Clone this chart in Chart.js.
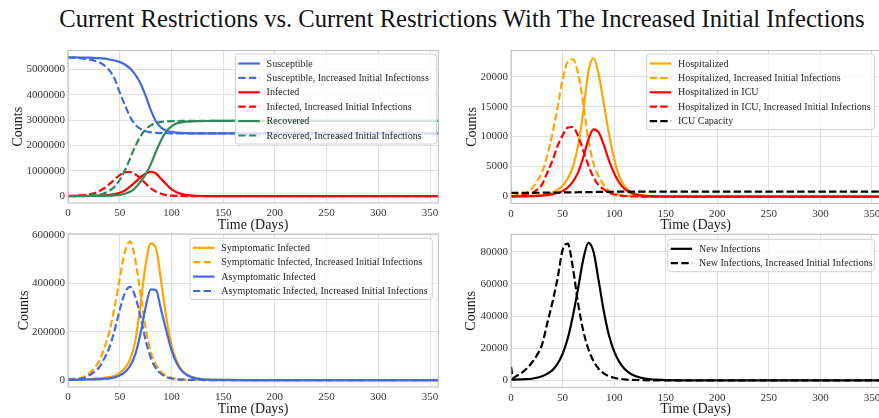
<!DOCTYPE html>
<html>
<head>
<meta charset="utf-8">
<script src="https://cdn.jsdelivr.net/npm/chart.js@4"></script>
<style>
html, body { margin: 0; padding: 0; overflow: hidden; background: #fff; width: 879px; height: 418px; }
#title { position: absolute; left: 0; top: 4px; width: 924px; text-align: center; white-space: nowrap;
         font-family: 'Liberation Serif', serif; font-size: 24.6px; line-height: 30px; color: #111; }
canvas { position: absolute; left: 0; top: 0; }
</style>
</head>
<body>
<div id="title">Current Restrictions vs. Current Restrictions With The Increased Initial Infections</div>
<canvas id="c1" width="900" height="418"></canvas>
<canvas id="c2" width="900" height="418"></canvas>
<canvas id="c3" width="900" height="418"></canvas>
<canvas id="c4" width="900" height="418"></canvas>
<script>
// days
const days = [0, 2, 5, 10, 15, 20, 25, 30, 35, 40, 45, 50, 55, 60, 65, 70, 75, 80, 85, 90, 95, 100,
  105, 110, 115, 120, 125, 130, 135, 140, 145, 150, 175, 200, 250, 300, 358];
const xTicks = [0, 50, 100, 150, 200, 250, 300, 350];

// top left: S / I / R
const susceptible = [5470000, 5470000, 5470000, 5468000, 5465000, 5460000, 5452000, 5440000, 5420000, 5390000,
  5350000, 5290000, 5190000, 5030000, 4790000, 4450000, 3960000, 3400000, 2950000, 2700000, 2580000, 2530000,
  2500000, 2490000, 2480000, 2475000, 2472000, 2471000, 2470000, 2470000, 2470000, 2470000, 2470000, 2470000,
  2470000, 2470000, 2470000];
const susceptibleInc = [5460000, 5458000, 5455000, 5445000, 5425000, 5395000, 5350000, 5280000, 5160000, 4960000,
  4640000, 4090000, 3600000, 3130000, 2820000, 2650000, 2560000, 2515000, 2495000, 2485000, 2478000, 2474000,
  2472000, 2471000, 2470000, 2470000, 2470000, 2470000, 2470000, 2470000, 2470000, 2470000, 2470000, 2470000,
  2470000, 2470000, 2470000];
const infected = [2000, 2000, 3000, 4000, 6000, 9000, 13000, 20000, 30000, 45000, 80000, 130000, 220000, 370000,
  550000, 740000, 880000, 960000, 890000, 680000, 470000, 270000, 150000, 75000, 35000, 15000, 7000, 3000, 1500,
  700, 300, 100, 0, 0, 0, 0, 0];
const infectedInc = [5000, 7000, 12000, 25000, 40000, 62000, 110000, 190000, 310000, 470000, 650000, 830000, 940000,
  950000, 860000, 700000, 500000, 300000, 180000, 90000, 40000, 15000, 6000, 2000, 700, 200, 0, 0, 0, 0, 0, 0, 0,
  0, 0, 0, 0];
const recovered = [0, 0, 0, 500, 1000, 2000, 3000, 5000, 10000, 18000, 30000, 50000, 90000, 170000, 320000, 560000,
  850000, 1250000, 1750000, 2200000, 2550000, 2750000, 2860000, 2910000, 2935000, 2948000, 2955000, 2960000,
  2962000, 2963000, 2964000, 2965000, 2965000, 2965000, 2965000, 2965000, 2965000];
const recoveredInc = [0, 0, 1000, 3000, 8000, 15000, 30000, 55000, 110000, 210000, 370000, 640000, 1010000, 1480000,
  1960000, 2350000, 2630000, 2790000, 2880000, 2925000, 2945000, 2955000, 2960000, 2963000, 2965000, 2965000,
  2965000, 2965000, 2965000, 2965000, 2965000, 2965000, 2965000, 2965000, 2965000, 2965000, 2965000];
const yTicks1 = [0, 1000000, 2000000, 3000000, 4000000, 5000000];

// top right: hospital
const hosp = [0, 0, 10, 30, 60, 100, 170, 270, 420, 650, 1100, 1800, 3000, 4900, 8500, 14000, 20800, 23100, 20400,
  15500, 10500, 6300, 3400, 1700, 900, 500, 280, 150, 80, 40, 20, 10, 0, 0, 0, 0, 0];
const hospInc = [100, 130, 200, 350, 700, 1300, 2500, 4000, 6800, 10400, 14700, 19500, 22500, 22900, 20600, 15600,
  9500, 5500, 3400, 1900, 1000, 580, 320, 180, 100, 50, 25, 10, 0, 0, 0, 0, 0, 0, 0, 0, 0];
const icu = [0, 0, 10, 20, 40, 60, 100, 150, 230, 350, 580, 900, 1500, 2500, 4000, 6500, 9500, 11200, 10700, 8600,
  6000, 3900, 2300, 1300, 700, 380, 200, 110, 60, 30, 15, 8, 0, 0, 0, 0, 0];
const icuInc = [50, 70, 100, 200, 380, 550, 1100, 2000, 3900, 5900, 8400, 10200, 11500, 11600, 10100, 7700, 5200,
  3200, 1900, 1200, 650, 350, 180, 90, 45, 20, 0, 0, 0, 0, 0, 0, 0, 0, 0, 0, 0];
const icuCap = [600, 602, 606, 612, 618, 625, 632, 640, 650, 660, 670, 682, 694, 706, 718, 730, 742, 755, 768, 780,
  792, 804, 815, 824, 830, 830, 830, 830, 830, 830, 830, 830, 830, 830, 830, 830, 830];
const yTicks2 = [0, 5000, 10000, 15000, 20000];

// bottom left: symptomatic / asymptomatic
const symp = [1000, 1000, 1500, 2000, 3000, 4000, 5500, 7000, 9000, 12000, 18000, 30000, 50000, 85000, 160000,
  310000, 475000, 565000, 545000, 410000, 260000, 145000, 80000, 42000, 22000, 12000, 6500, 3500, 2000, 1000, 500,
  300, 50, 0, 0, 0, 0];
const sympInc = [3000, 4000, 5000, 7000, 13000, 26000, 48000, 78000, 130000, 200000, 300000, 420000, 530000, 573000,
  497000, 360000, 215000, 118000, 64000, 34000, 18000, 9500, 5000, 2500, 1300, 700, 350, 180, 90, 40, 20, 10, 0, 0,
  0, 0, 0];
const asymp = [500, 600, 800, 1200, 1600, 2200, 3000, 4000, 5500, 7000, 11000, 19000, 33000, 58000, 105000, 190000,
  300000, 375000, 372000, 290000, 205000, 125000, 70000, 38000, 21000, 11000, 6000, 3200, 1800, 1000, 500, 300, 30,
  0, 0, 0, 0];
const asympInc = [2000, 2500, 3000, 4000, 8000, 18000, 33000, 52000, 88000, 135000, 205000, 290000, 360000, 385000,
  346000, 264000, 165000, 92000, 48000, 25000, 13000, 6500, 3300, 1700, 850, 400, 200, 100, 50, 25, 10, 5, 0, 0, 0,
  0, 0];
const yTicks3 = [0, 200000, 400000, 600000];

// bottom right: new infections
const newInf = [500, 400, 500, 600, 800, 1000, 1600, 2500, 4000, 6200, 10200, 16500, 26000, 40000, 57000, 75000,
  85500, 80000, 62000, 43000, 28000, 18000, 11500, 7200, 4500, 2800, 1800, 1100, 700, 400, 250, 150, 20, 0, 0, 0, 0];
const newInfInc = [8500, 1500, 2600, 4500, 7200, 10800, 15500, 22000, 35000, 48000, 63000, 81000, 85000, 70000,
  48000, 31000, 19500, 12000, 7200, 4300, 2600, 1600, 1000, 600, 350, 200, 120, 70, 40, 20, 10, 5, 0, 0, 0, 0, 0];
const yTicks4 = [0, 20000, 40000, 60000, 80000];

const FONT = "'Liberation Serif', 'Times New Roman', serif";
const W = 900, H = 418;
const GRID = '#e0e0e0';
const TXT = '#333333';

// frame + matplotlib-like legend inside the axes
const framePlugin = {
  id: 'frameLegend',
  afterDatasetsDraw(chart, args, opts) {
    const ctx = chart.ctx;
    const a = chart.chartArea;
    ctx.save();
    ctx.strokeStyle = '#bcbcbc';
    ctx.lineWidth = 1;
    ctx.setLineDash([]);
    ctx.strokeRect(a.left, a.top, a.right - a.left, a.bottom - a.top);

    const sets = chart.data.datasets;
    const bx = a.left + opts.dx, by = a.top + opts.dy, bw = opts.w;
    const bh = 9.5 + (sets.length - 1) * 14.4 + 8.5;
    const r = 3;
    ctx.beginPath();
    ctx.moveTo(bx + r, by);
    ctx.arcTo(bx + bw, by, bx + bw, by + bh, r);
    ctx.arcTo(bx + bw, by + bh, bx, by + bh, r);
    ctx.arcTo(bx, by + bh, bx, by, r);
    ctx.arcTo(bx, by, bx + bw, by, r);
    ctx.closePath();
    ctx.fillStyle = 'rgba(255,255,255,0.8)';
    ctx.fill();
    ctx.strokeStyle = '#d0d0d0';
    ctx.stroke();

    ctx.font = '10px ' + FONT;
    ctx.textBaseline = 'middle';
    sets.forEach((ds, i) => {
      const cy = by + 9.5 + i * 14.4;
      ctx.beginPath();
      ctx.strokeStyle = ds.borderColor;
      ctx.lineWidth = ds.borderWidth;
      ctx.lineCap = 'butt';
      ctx.setLineDash(ds.borderDash);
      ctx.moveTo(bx + 3, cy);
      ctx.lineTo(bx + 24.5, cy);
      ctx.stroke();
      ctx.setLineDash([]);
      ctx.fillStyle = '#262626';
      ctx.fillText(ds.label, bx + 31.3, cy + 0.5);
    });
    ctx.restore();
  }
};

function makePanel(id, box, yMin, yMax, yTicks, series, legend) {
  new Chart(document.getElementById(id), {
    type: 'line',
    data: {
      datasets: series.map((s, i) => ({
        label: s.label,
        data: days.map((d, k) => ({ x: d, y: s.values[k] })),
        borderColor: s.color,
        borderWidth: 2.2,
        borderDash: s.dashed ? [7.4, 3.2] : [],
        borderCapStyle: 'butt',
        pointRadius: 0,
        cubicInterpolationMode: 'monotone',
        fill: false,
        order: series.length - i
      }))
    },
    options: {
      responsive: false,
      animation: false,
      events: [],
      layout: { padding: { left: box.axisLeft, right: W - box.right, top: box.top, bottom: H - box.xBottom } },
      plugins: { legend: { display: false }, tooltip: { enabled: false }, frameLegend: legend },
      scales: {
        x: {
          type: 'linear', min: 0, max: 358,
          afterBuildTicks: sc => { sc.ticks = xTicks.map(v => ({ value: v })); },
          afterFit: sc => { sc.height = box.xBottom - box.bottom; },
          grid: { color: GRID, lineWidth: 1, drawTicks: false },
          border: { display: false },
          ticks: { font: { family: FONT, size: 11 }, color: TXT, padding: 4, maxRotation: 0, autoSkip: false,
                   callback: v => String(v) },
          title: { display: true, text: 'Time (Days)', font: { family: FONT, size: 14 }, color: '#1a1a1a', padding: 0 }
        },
        y: {
          type: 'linear', min: yMin, max: yMax,
          afterBuildTicks: sc => { sc.ticks = yTicks.map(v => ({ value: v })); },
          afterFit: sc => { sc.width = box.left - box.axisLeft; },
          grid: { color: GRID, lineWidth: 1, drawTicks: false },
          border: { display: false },
          ticks: { font: { family: FONT, size: 11 }, color: TXT, padding: 3, autoSkip: false,
                   callback: v => String(v) },
          title: { display: true, text: 'Counts', font: { family: FONT, size: 14 }, color: '#1a1a1a', padding: 0 }
        }
      }
    },
    plugins: [framePlugin]
  });
}

const BLUE = '#4169e1', RED = '#ff0000', GREEN = '#2e8b57', ORANGE = '#ffa500', BLACK = '#000000';

makePanel('c1', { axisLeft: 10.2, left: 68, right: 438.3, top: 50.5, bottom: 203, xBottom: 233.6 },
  -273500, 5743500, yTicks1, [
    { label: 'Susceptible', values: susceptible, color: BLUE },
    { label: 'Susceptible, Increased Initial Infectionss', values: susceptibleInc, color: BLUE, dashed: true },
    { label: 'Infected', values: infected, color: RED },
    { label: 'Infected, Increased Initial Infections', values: infectedInc, color: RED, dashed: true },
    { label: 'Recovered', values: recovered, color: GREEN },
    { label: 'Recovered, Increased Initial Infections', values: recoveredInc, color: GREEN, dashed: true }
  ], { dx: 167.3, dy: 3.5, w: 201.4 });

makePanel('c2', { axisLeft: 463.6, left: 511, right: 880.2, top: 50.5, bottom: 203.5, xBottom: 233.6 },
  -1160, 24360, yTicks2, [
    { label: 'Hospitalized', values: hosp, color: ORANGE },
    { label: 'Hospitalized, Increased Initial Infections', values: hospInc, color: ORANGE, dashed: true },
    { label: 'Hospitalized in ICU', values: icu, color: RED },
    { label: 'Hospitalized in ICU, Increased Initial Infections', values: icuInc, color: RED, dashed: true },
    { label: 'ICU Capacity', values: icuCap, color: BLACK, dashed: true }
  ], { dx: 135.7, dy: 3.5, w: 227.6 });

makePanel('c3', { axisLeft: 15.7, left: 68, right: 438.3, top: 234, bottom: 387, xBottom: 417.8 },
  -28750, 603750, yTicks3, [
    { label: 'Symptomatic Infected', values: symp, color: ORANGE },
    { label: 'Symptomatic Infected, Increased Initial Infections', values: sympInc, color: ORANGE, dashed: true },
    { label: 'Asymptomatic Infected', values: asymp, color: BLUE },
    { label: 'Asymptomatic Infected, Increased Initial Infections', values: asympInc, color: BLUE, dashed: true }
  ], { dx: 122, dy: 4.3, w: 242.3 });

makePanel('c4', { axisLeft: 463.2, left: 511, right: 880.2, top: 234.3, bottom: 387.3, xBottom: 417.6 },
  -4325, 90825, yTicks4, [
    { label: 'New Infections', values: newInf, color: BLACK },
    { label: 'New Infections, Increased Initial Infections', values: newInfInc, color: BLACK, dashed: true }
  ], { dx: 156.7, dy: 5, w: 206.6 });
</script>
</body>
</html>
